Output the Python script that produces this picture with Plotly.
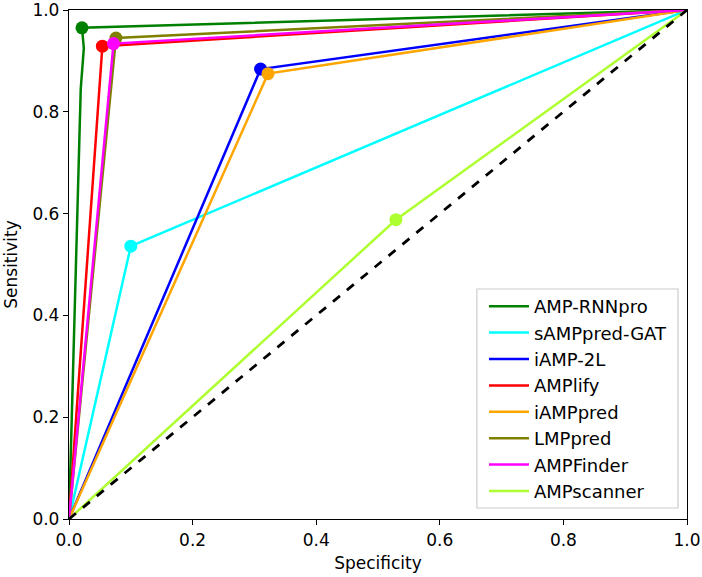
import plotly.graph_objects as go

models = ["AMP-RNNpro", "sAMPpred-GAT", "iAMP-2L", "AMPlify",
          "iAMPpred", "LMPpred", "AMPFinder", "AMPscanner"]
colors = ["#008000", "#00FFFF", "#0000FF", "#FF0000",
          "#FFA500", "#808000", "#FF00FF", "#ADFF2F"]

# ROC line paths (x axis labelled "Specificity", y "Sensitivity")
roc_x = [
    [0.0, 0.019, 0.024, 0.021, 1.0],
    [0.0, 0.100, 1.0],
    [0.0, 0.310, 1.0],
    [0.0, 0.054, 1.0],
    [0.0, 0.322, 1.0],
    [0.0, 0.076, 1.0],
    [0.0, 0.072, 1.0],
    [0.0, 0.529, 1.0],
]
roc_y = [
    [0.0, 0.845, 0.925, 0.965, 1.0],
    [0.0, 0.536, 1.0],
    [0.0, 0.884, 1.0],
    [0.0, 0.929, 1.0],
    [0.0, 0.875, 1.0],
    [0.0, 0.945, 1.0],
    [0.0, 0.934, 1.0],
    [0.0, 0.588, 1.0],
]
# operating points (markers)
point_x = [0.021, 0.100, 0.310, 0.054, 0.322, 0.076, 0.072, 0.529]
point_y = [0.965, 0.536, 0.884, 0.929, 0.875, 0.945, 0.934, 0.588]

diag_x = [0.0, 1.0]
diag_y = [0.0, 1.0]

fig = go.Figure()
for i, name in enumerate(models):
    fig.add_trace(go.Scatter(
        x=roc_x[i], y=roc_y[i], mode="lines", name=name,
        line=dict(color=colors[i], width=2.5),
        legendgroup=name,
    ))
    fig.add_trace(go.Scatter(
        x=[point_x[i]], y=[point_y[i]], mode="markers",
        marker=dict(color=colors[i], size=13),
        showlegend=False, legendgroup=name,
    ))

fig.add_trace(go.Scatter(
    x=diag_x, y=diag_y, mode="lines", showlegend=False,
    line=dict(color="black", width=2.8, dash="dash"),
))

axis_common = dict(
    range=[0, 1], showgrid=False, zeroline=False, automargin=False,
    showline=True, linecolor="black", linewidth=1.3, mirror=True,
    ticks="outside", ticklen=5, tickwidth=1.2, tickcolor="black",
    tickvals=[0, 0.2, 0.4, 0.6, 0.8, 1.0], tickformat=".1f",
    tickfont=dict(size=17, color="black"), ticklabeloverflow="allow",
)

fig.update_layout(
    width=702, height=577, autosize=False,
    margin=dict(l=69, r=15, t=10, b=58),
    paper_bgcolor="white", plot_bgcolor="white",
    font=dict(family="DejaVu Sans", color="black"),
    xaxis=dict(title=dict(text="Specificity", font=dict(size=17), standoff=8), **axis_common),
    yaxis=dict(title=dict(text="Sensitivity", font=dict(size=17), standoff=10), **axis_common),
    legend=dict(
        x=0.6715, y=0.4538, xanchor="left", yanchor="top",
        bgcolor="rgba(0,0,0,0)", borderwidth=0,
        font=dict(size=18, color="black"),
        tracegroupgap=0, itemwidth=40,
    ),
    shapes=[dict(
        type="rect", xref="paper", yref="paper",
        x0=0.660, x1=0.9854, y0=0.0216, y1=0.4519,
        line=dict(color="#CCCCCC", width=1.2),
        fillcolor="rgba(255,255,255,0.85)", layer="above",
    )],
    showlegend=True,
)

fig.write_html(
    "out.html",
    config={"displayModeBar": False, "responsive": False},
    post_script="document.body.style.margin='0px';document.body.style.overflow='hidden';",
)
